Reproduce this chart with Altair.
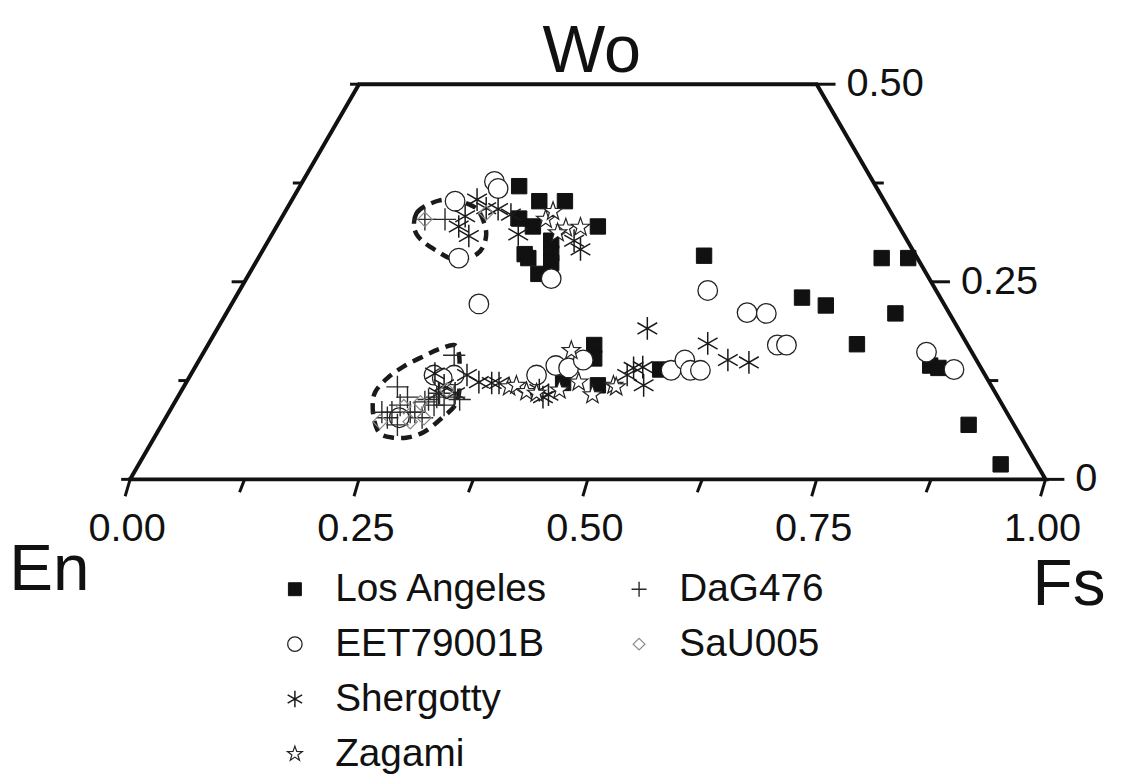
import altair as alt
import pandas as pd

# ---------------- data (x: position along En-Fs, y: Wo) ----------------
series_names = ["Los Angeles", "EET79001B", "Shergotty", "Zagami", "DaG476", "SaU005"]

la_x = [0.425, 0.447, 0.475, 0.425, 0.440, 0.511, 0.431, 0.435, 0.460, 0.460, 0.460, 0.446,
        0.507, 0.507, 0.473, 0.511, 0.579, 0.627, 0.821, 0.850, 0.734, 0.760, 0.836, 0.794,
        0.874, 0.883, 0.916, 0.951]
la_y = [0.371, 0.352, 0.352, 0.330, 0.320, 0.320, 0.285, 0.280, 0.302, 0.286, 0.274, 0.260,
        0.170, 0.153, 0.122, 0.119, 0.139, 0.283, 0.280, 0.280, 0.230, 0.220, 0.210, 0.171,
        0.144, 0.141, 0.069, 0.019]

eet_x = [0.398, 0.402, 0.355, 0.359, 0.460, 0.381, 0.332, 0.354, 0.341, 0.294, 0.444, 0.465,
         0.479, 0.495, 0.591, 0.606, 0.612, 0.623, 0.631, 0.674, 0.695, 0.707, 0.717, 0.870, 0.900]
eet_y = [0.377, 0.368, 0.352, 0.280, 0.254, 0.222, 0.132, 0.132, 0.128, 0.078, 0.132, 0.144,
         0.141, 0.151, 0.138, 0.151, 0.138, 0.138, 0.239, 0.211, 0.210, 0.170, 0.170, 0.161, 0.139]

sher_x = [0.379, 0.366, 0.359, 0.370, 0.402, 0.416, 0.424, 0.492, 0.485, 0.389, 0.333, 0.343,
          0.368, 0.381, 0.395, 0.337, 0.355, 0.447, 0.451, 0.457, 0.403, 0.543, 0.550, 0.560,
          0.561, 0.565, 0.631, 0.653, 0.676]
sher_y = [0.354, 0.333, 0.320, 0.308, 0.342, 0.335, 0.310, 0.291, 0.302, 0.343, 0.134, 0.119,
          0.132, 0.123, 0.122, 0.109, 0.109, 0.113, 0.104, 0.107, 0.122, 0.132, 0.141, 0.142,
          0.119, 0.191, 0.172, 0.151, 0.148]

zag_x = [0.454, 0.462, 0.476, 0.492, 0.467, 0.414, 0.422, 0.433, 0.444, 0.482, 0.490, 0.505,
         0.528, 0.531, 0.469]
zag_y = [0.329, 0.339, 0.318, 0.319, 0.312, 0.117, 0.119, 0.111, 0.109, 0.163, 0.123, 0.107,
         0.119, 0.117, 0.113]

dag_x = [0.322, 0.344, 0.275, 0.281, 0.286, 0.292, 0.295, 0.306, 0.311, 0.319, 0.322, 0.332,
         0.335, 0.343, 0.360, 0.354, 0.292, 0.303, 0.326, 0.338, 0.354]
dag_y = [0.329, 0.329, 0.085, 0.078, 0.085, 0.069, 0.094, 0.085, 0.085, 0.078, 0.098, 0.094,
         0.104, 0.094, 0.101, 0.157, 0.117, 0.104, 0.101, 0.109, 0.104]

sau_x = [0.322, 0.389, 0.273, 0.306, 0.321, 0.346, 0.299, 0.317]
sau_y = [0.329, 0.337, 0.073, 0.073, 0.078, 0.113, 0.092, 0.097]

# dashed outlines (closed curves)
upper_x = [0.310, 0.313, 0.321, 0.338, 0.355, 0.368, 0.379, 0.386, 0.389, 0.385, 0.376, 0.362,
           0.349, 0.335, 0.322, 0.313]
upper_y = [0.323, 0.337, 0.345, 0.353, 0.354, 0.349, 0.342, 0.327, 0.310, 0.293, 0.283, 0.279,
           0.280, 0.289, 0.299, 0.310]
lower_x = [0.354, 0.359, 0.360, 0.360, 0.359, 0.354, 0.338, 0.321, 0.303, 0.286, 0.273, 0.267,
           0.265, 0.268, 0.281, 0.299, 0.321, 0.338]
lower_y = [0.170, 0.160, 0.144, 0.126, 0.107, 0.092, 0.075, 0.060, 0.053, 0.053, 0.058, 0.073,
           0.094, 0.111, 0.128, 0.143, 0.156, 0.165]

# frame (pyroxene quadrilateral)
frame_x = [0.0, 0.25, 0.75, 1.0, 0.0]
frame_y = [0.0, 0.5, 0.5, 0.0, 0.0]

bottom_tick_vals = [0.0, 0.125, 0.25, 0.375, 0.5, 0.625, 0.75, 0.875, 1.0]
bottom_label_vals = [0.0, 0.25, 0.5, 0.75, 1.0]
bottom_labels = ["0.00", "0.25", "0.50", "0.75", "1.00"]
wo_tick_vals = [0.0, 0.125, 0.25, 0.375, 0.5]
right_label_vals = [0.0, 0.25, 0.5]
right_labels = ["0", "0.25", "0.50"]

# ---------------- layout helpers ----------------
W, H = 922, 398
PX = 1.0 / W
PY = 0.5 / H
FONT = "Liberation Sans, Arial, Helvetica, sans-serif"

xs = alt.Scale(domain=[0, 1], nice=False, zero=False)
ys = alt.Scale(domain=[0, 0.5], nice=False, zero=False)

AST = "M0,-1L0,1M-0.87,-0.5L0.87,0.5M-0.87,0.5L0.87,-0.5"
PLUS = "M-1,0L1,0M0,-1L0,1"
STAR = ("M0,-1L0.235,-0.324L0.951,-0.309L0.38,0.124L0.588,0.809L0,0.4L-0.588,0.809"
        "L-0.38,0.124L-0.951,-0.309L-0.235,-0.324Z")
style = {
    "Los Angeles": dict(shape="square", fill="#111111", stroke="#111111", size=240, lsize=170, sw=1.0),
    "EET79001B": dict(shape="circle", fill="white", stroke="#222222", size=390, lsize=210, sw=1.3),
    "Shergotty": dict(shape=AST, fill="transparent", stroke="#1a1a1a", size=520, lsize=280, sw=1.5),
    "Zagami": dict(shape=STAR, fill="white", stroke="#222222", size=380, lsize=250, sw=1.2),
    "DaG476": dict(shape=PLUS, fill="transparent", stroke="#2a2a2a", size=500, lsize=230, sw=1.4),
    "SaU005": dict(shape="diamond", fill="transparent", stroke="#8a8a8a", size=210, lsize=140, sw=1.2),
}

xs_list = [la_x, eet_x, sher_x, zag_x, dag_x, sau_x]
ys_list = [la_y, eet_y, sher_y, zag_y, dag_y, sau_y]
rows = []
k = 0
for name, sx, sy in zip(series_names, xs_list, ys_list):
    st = style[name]
    for a, b in zip(sx, sy):
        rows.append(dict(series=name, x=a, y=b, idx=k, shape=st["shape"], fill=st["fill"],
                         stroke=st["stroke"], size=st["size"], sw=st["sw"]))
        k += 1
pts_df = pd.DataFrame(rows)

def X(f, **kw):
    return alt.X(f, scale=xs, axis=None, **kw)

def Y(f, **kw):
    return alt.Y(f, scale=ys, axis=None, **kw)

frame_df = pd.DataFrame({"x": frame_x, "y": frame_y, "i": range(len(frame_x))})
frame = alt.Chart(frame_df).mark_line(color="#111111", strokeWidth=4, strokeJoin="miter",
                                      strokeCap="square").encode(
    x=X("x:Q"), y=Y("y:Q"), order="i:Q")

# ticks
trows = []
for v in bottom_tick_vals:
    L = 17 if v in bottom_label_vals else 13
    trows.append(dict(x=v, y=0.0, x2=v - 5 * PX, y2=-L * PY))
for v in wo_tick_vals:
    L = 13 if v == 0.25 else 9
    ex = v / 2
    trows.append(dict(x=ex, y=v, x2=ex - L * PX, y2=v))
for v in wo_tick_vals:
    L = 19 if v in right_label_vals else 10
    ex = 1 - v / 2
    trows.append(dict(x=ex, y=v, x2=ex + L * PX, y2=v))
ticks_df = pd.DataFrame(trows)
ticks = alt.Chart(ticks_df).mark_rule(color="#111111", strokeWidth=3).encode(
    x=X("x:Q"), y=Y("y:Q"), x2="x2:Q", y2="y2:Q")

# outlines
orows = []
for g, (ox, oy) in enumerate([(upper_x, upper_y), (lower_x, lower_y)]):
    for i, (a, b) in enumerate(zip(ox, oy)):
        orows.append(dict(g=g, i=i, x=a, y=b))
out_df = pd.DataFrame(orows)
outlines = alt.Chart(out_df).mark_line(color="#1a1a1a", strokeWidth=4.5, strokeDash=[11, 7],
                                       interpolate="cardinal-closed").encode(
    x=X("x:Q"), y=Y("y:Q"), detail="g:N", order="i:Q")

points = alt.Chart(pts_df).mark_point(opacity=1, filled=False).encode(
    x=X("x:Q"), y=Y("y:Q"),
    shape=alt.Shape("shape:N", scale=None),
    fill=alt.Fill("fill:N", scale=None),
    stroke=alt.Stroke("stroke:N", scale=None),
    size=alt.Size("size:Q", scale=None),
    strokeWidth=alt.StrokeWidth("sw:Q", scale=None),
    order=alt.Order("idx:Q"),
)

# tick labels
bl_df = pd.DataFrame({"x": bottom_label_vals, "y": [0.0] * 5, "t": bottom_labels})
bottom_text = alt.Chart(bl_df).mark_text(font=FONT, fontSize=40, color="#111111", align="center",
                                         baseline="alphabetic", dx=-3, dy=62).encode(
    x=X("x:Q"), y=Y("y:Q"), text="t:N")

rl_df = pd.DataFrame({"x": [1 - v / 2 for v in right_label_vals], "y": right_label_vals,
                      "t": right_labels})
right_text = alt.Chart(rl_df).mark_text(font=FONT, fontSize=40, color="#111111", align="left",
                                        baseline="middle", dx=30, dy=0).encode(
    x=X("x:Q"), y=Y("y:Q"), text="t:N")

# corner titles
title_df = pd.DataFrame({"t": ["Wo"], "x": [0.5], "y": [0.5]})
wo = alt.Chart(title_df).mark_text(font=FONT, fontSize=67, color="#111111", align="center",
                                   baseline="alphabetic", dx=4, dy=-12).encode(
    x=X("x:Q"), y=Y("y:Q"), text="t:N")
en_df = pd.DataFrame({"t": ["En"], "x": [0.0], "y": [0.0]})
en = alt.Chart(en_df).mark_text(font=FONT, fontSize=66, color="#111111", align="right",
                                baseline="alphabetic", dx=-41, dy=111).encode(
    x=X("x:Q"), y=Y("y:Q"), text="t:N")
fs_df = pd.DataFrame({"t": ["Fs"], "x": [1.0], "y": [0.0]})
fs = alt.Chart(fs_df).mark_text(font=FONT, fontSize=66, color="#111111", align="left",
                                baseline="alphabetic", dx=-13, dy=127).encode(
    x=X("x:Q"), y=Y("y:Q"), text="t:N")

# manual legend (two columns: 4 + 2 entries)
lrows = []
for i, name in enumerate(series_names):
    col = 0 if i < 4 else 1
    row = i if i < 4 else i - 4
    st = style[name]
    sx = 0.180 + col * 0.376
    ly = -0.139 - row * 0.0695
    lrows.append(dict(series=name, sx=sx, tx=sx + 0.044, y=ly, shape=st["shape"], fill=st["fill"],
                      stroke=st["stroke"], size=st["lsize"], sw=st["sw"]))
leg_df = pd.DataFrame(lrows)
leg_sym = alt.Chart(leg_df).mark_point(opacity=1, filled=False).encode(
    x=X("sx:Q"), y=Y("y:Q"),
    shape=alt.Shape("shape:N", scale=None),
    fill=alt.Fill("fill:N", scale=None),
    stroke=alt.Stroke("stroke:N", scale=None),
    size=alt.Size("size:Q", scale=None),
    strokeWidth=alt.StrokeWidth("sw:Q", scale=None),
)
leg_txt = alt.Chart(leg_df).mark_text(font=FONT, fontSize=39, color="#111111", align="left",
                                      baseline="middle").encode(
    x=X("tx:Q"), y=Y("y:Q"), text="series:N")

chart = alt.layer(frame, ticks, outlines, points, bottom_text, right_text, wo, en, fs,
                  leg_sym, leg_txt).properties(
    width=W, height=H,
    padding={"left": 123, "top": 74, "right": 72, "bottom": 294},
    autosize=alt.AutoSizeParams(type="none"),
    background="white",
).configure_view(stroke=None)

chart.save("out.html", embed_options={"renderer": "svg", "actions": False})
